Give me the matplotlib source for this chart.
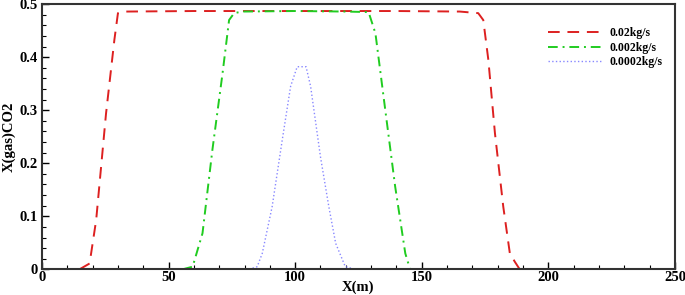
import numpy as np
from matplotlib import pyplot as plt
from matplotlib.ticker import MultipleLocator, FuncFormatter

# 0.02 kg/s injection
x_red = [14.8, 18.8, 21.4, 25.3, 28.6, 30.0, 33.2, 60, 100, 140, 165, 172.3, 174.3, 176.3,
         178.9, 182.2, 184.8, 186.8, 188.7]
y_red = [0.0, 0.011, 0.093, 0.294, 0.433, 0.483, 0.486, 0.487, 0.487, 0.487, 0.486, 0.483,
         0.470, 0.395, 0.257, 0.118, 0.030, 0.014, 0.0]
# 0.002 kg/s injection
x_green = [55.5, 59.5, 63.4, 67.3, 71.3, 73.9, 75.9, 79.1, 100, 120, 129.0, 131.7, 135.6,
           139.5, 143.5, 145.4, 148.0]
y_green = [0.0, 0.005, 0.068, 0.225, 0.369, 0.470, 0.483, 0.486, 0.487, 0.486, 0.485,
           0.445, 0.300, 0.156, 0.030, 0.0, 0.0]
# 0.0002 kg/s injection
x_blue = [81.8, 85.0, 87.0, 90.9, 94.9, 98.2, 100.8, 104.3, 106.1, 110.0, 113.3, 116.0,
          119.8, 123.8]
y_blue = [0.0, 0.005, 0.030, 0.118, 0.244, 0.345, 0.382, 0.382, 0.345, 0.212, 0.118,
          0.049, 0.005, 0.0]

labels = ['0.02kg/s', '0.002kg/s', '0.0002kg/s']

plt.rcParams['font.family'] = ['Liberation Serif', 'DejaVu Serif']
plt.rcParams['font.weight'] = 'bold'

fig = plt.figure(figsize=(6.85, 2.95), dpi=100)
ax = fig.add_axes([0.0613, 0.087, 0.924, 0.899])

ax.plot(x_red, y_red, color='#dd2020', lw=1.4, dashes=(6, 4), label=labels[0])
ax.plot(x_green, y_green, color='#20cc20', lw=1.4, dashes=(5, 2.5, 1, 2.5), label=labels[1])
ax.plot(x_blue, y_blue, color='#8888ff', lw=1.0, ls=':', label=labels[2])

ax.set_xlim(0, 250)
ax.set_ylim(0, 0.5)
ax.xaxis.set_major_locator(MultipleLocator(50))
ax.xaxis.set_minor_locator(MultipleLocator(10))
ax.yaxis.set_major_locator(MultipleLocator(0.1))
ax.yaxis.set_minor_locator(MultipleLocator(0.02))
ax.yaxis.set_major_formatter(FuncFormatter(lambda v, p: '%g' % round(v, 2)))
ax.tick_params(which='both', direction='in', top=False, right=False, labelsize=10.5)
ax.tick_params(axis='x', pad=1.5)
ax.tick_params(axis='y', pad=3)
ax.tick_params(which='major', length=5, width=1)
ax.tick_params(which='minor', length=3, width=0.8)
for s in ax.spines.values():
    s.set_linewidth(1.5)
    s.set_color('#333333')

ax.set_xlabel('X(m)', fontsize=10.5, fontweight='bold', va='center')
ax.xaxis.set_label_coords(0.5, -0.068)
ax.set_ylabel('X(gas)CO2', fontsize=10.5, fontweight='bold', va='center')
ax.yaxis.set_label_coords(-0.052, 0.5)

leg = ax.legend(loc='upper right', bbox_to_anchor=(0.988, 0.93), borderaxespad=0,
                frameon=False, fontsize=8.5, handlelength=4.5, handletextpad=0.75,
                labelspacing=0.2)

fig.savefig('out.png', dpi=100)
